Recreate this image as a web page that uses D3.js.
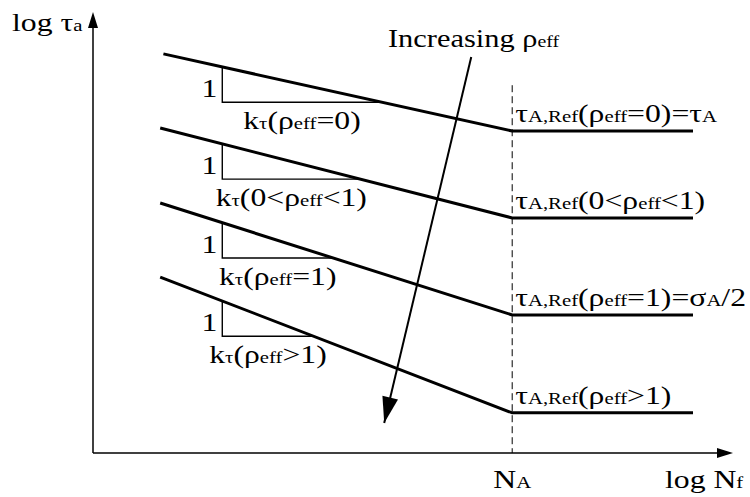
<!DOCTYPE html>
<html><head><meta charset="utf-8">
<script src="https://cdn.jsdelivr.net/npm/d3@7"></script>
<style>body{margin:0;background:#fff}svg{display:block}</style>
</head><body><svg id="c" width="750" height="497"></svg>
<script>
// ---- data (schematic S-N curves in log-log space) ----
const seriesKeys   = ["rho0", "rhoMid", "rho1", "rhoGt1"];
const startLogN    = [1.10, 1.05, 1.05, 1.05];
const startLogTau  = [9.05, 7.37, 5.67, 3.99];
const kneeLogN     = 6.55;               // N_A
const kneeLogTau   = [7.30, 5.33, 3.13, 0.91];
const endLogN      = 9.375;
const triLogN      = 2.02;               // position of slope triangles
const triHeight    = 0.80;               // "1" unit of slope triangle
const slopeLabels  = ["k_{τ}(ρ_{eff}=0)", "k_{τ}(0<ρ_{eff}<1)", "k_{τ}(ρ_{eff}=1)", "k_{τ}(ρ_{eff}>1)"];
const refLabels    = ["τ_{A,Ref}(ρ_{eff}=0)=τ_{A}", "τ_{A,Ref}(0<ρ_{eff}<1)", "τ_{A,Ref}(ρ_{eff}=1)=σ_{A}/2", "τ_{A,Ref}(ρ_{eff}>1)"];
const xTickLabels  = ["N_{A}"];
const xAxisTitle   = "log N_{f}";
const yAxisTitle   = "log τ_{a}";
const arrowText    = "Increasing ρ_{eff}";
const arrowFrom    = [5.91, 8.98];
const arrowTo      = [4.55, 0.68];
const dashTopLogTau = 8.34;

// ---- layout ----
const x = d3.scaleLinear().domain([0, 10]).range([93, 733]);
const y = d3.scaleLinear().domain([0, 10]).range([453, 12]);
const BIG = 26, SMALL = 17, SX = 1.22;

const svg = d3.select("#c");

function rich(px, py, str, anchor, big = BIG, small = SMALL, sx = SX) {
  const t = svg.append("text")
    .attr("transform", `translate(${px},${py}) scale(${sx},1)`)
    .attr("text-anchor", anchor || "start")
    .style("font-family", '"Liberation Serif"')
    .attr("fill", "#000");
  str.split(/(_\{[^}]*\})/).filter(s => s).forEach(p => {
    if (p.startsWith("_{")) t.append("tspan").attr("font-size", small).text(p.slice(2, -1));
    else t.append("tspan").attr("font-size", big).text(p);
  });
  return t;
}

function arrowHead(x1, y1, x2, y2, len, half) {
  const a = Math.atan2(y2 - y1, x2 - x1);
  const bx = x2 - len * Math.cos(a), by = y2 - len * Math.sin(a);
  const px = -Math.sin(a) * half, py = Math.cos(a) * half;
  svg.append("path")
    .attr("d", `M${x2},${y2}L${bx + px},${by + py}L${bx - px},${by - py}Z`)
    .attr("fill", "#000");
}

// axes
svg.append("line").attr("x1", x(0)).attr("y1", y(0)).attr("x2", x(0)).attr("y2", y(10) + 12)
  .attr("stroke", "#000").attr("stroke-width", 1.5);
arrowHead(x(0), y(0), x(0), y(10), 16, 5);
svg.append("line").attr("x1", x(0)).attr("y1", y(0)).attr("x2", x(10) - 12).attr("y2", y(0))
  .attr("stroke", "#000").attr("stroke-width", 1.5);
arrowHead(x(0), y(0), x(10), y(0), 16, 5);

// N_A dashed line
svg.append("line").attr("x1", x(kneeLogN)).attr("x2", x(kneeLogN))
  .attr("y1", y(dashTopLogTau)).attr("y2", y(0))
  .attr("stroke", "#000").attr("stroke-width", 1).attr("stroke-dasharray", "7,4");

// curves
const line = d3.line().x(d => x(d[0])).y(d => y(d[1]));
seriesKeys.forEach((k, i) => {
  const pts = [[startLogN[i], startLogTau[i]], [kneeLogN, kneeLogTau[i]], [endLogN, kneeLogTau[i]]];
  svg.append("path").attr("d", line(pts)).attr("fill", "none")
    .attr("stroke", "#000").attr("stroke-width", 3);

  // slope triangle
  const slope = (kneeLogTau[i] - startLogTau[i]) / (kneeLogN - startLogN[i]);
  const tTop = startLogTau[i] + slope * (triLogN - startLogN[i]);
  const tBot = tTop - triHeight;
  const tEnd = startLogN[i] + (tBot - startLogTau[i]) / slope;
  svg.append("path")
    .attr("d", line([[triLogN, tTop], [triLogN, tBot], [tEnd, tBot]]))
    .attr("fill", "none").attr("stroke", "#000").attr("stroke-width", 1.4);
  rich(x(triLogN) - 5, y(tBot) - 5, "1", "end");
  rich((x(triLogN) + x(tEnd)) / 2, y(tBot) + 27, slopeLabels[i], "middle");

  // reference label
  rich(x(kneeLogN) + 3, y(kneeLogTau[i]) - 9, refLabels[i], "start");
});

// Increasing arrow
svg.append("line").attr("x1", x(arrowFrom[0])).attr("y1", y(arrowFrom[1]))
  .attr("x2", x(arrowTo[0])).attr("y2", y(arrowTo[1]))
  .attr("stroke", "#000").attr("stroke-width", 2);
arrowHead(x(arrowFrom[0]), y(arrowFrom[1]), x(arrowTo[0]), y(arrowTo[1]), 26, 8);
rich(388, 47, arrowText, "start", BIG, SMALL, 1.17);

// axis labels
rich(x(kneeLogN), 488, xTickLabels[0], "middle");
rich(665, 488, xAxisTitle, "start");
rich(12, 31, yAxisTitle, "start", 26, 17);
</script></body></html>
